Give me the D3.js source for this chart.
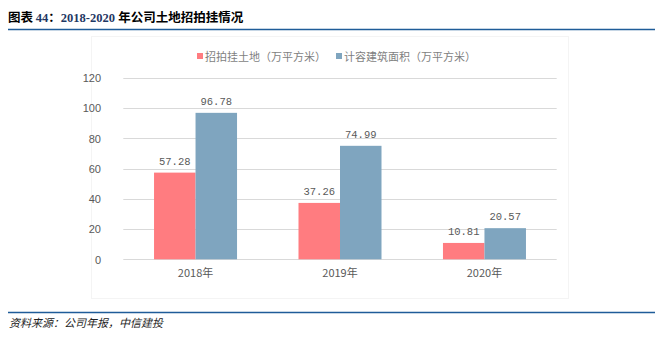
<!DOCTYPE html>
<html><head><meta charset="utf-8">
<script src="https://cdn.jsdelivr.net/npm/d3@7/dist/d3.min.js"></script>
<style>body{margin:0;background:#fff;}svg{display:block;}</style>
</head><body><svg id="c" width="663" height="343"></svg>
<script>
const categories = ["2018年", "2019年", "2020年"];
const seriesNames = ["招拍挂土地（万平方米）", "计容建筑面积（万平方米）"];
const landArea = [57.28, 37.26, 10.81];
const buildArea = [96.78, 74.99, 20.57];
const yTicks = [0, 20, 40, 60, 80, 100, 120];
const colors = ["#ff7c80", "#7fa5bf"];

const svg = d3.select("#c");
const cjk = "'Noto Sans CJK SC', sans-serif";

// Title
const title = svg.append("text").attr("x", 8).attr("y", 22)
  .attr("font-size", 12.5).attr("font-weight", "bold").attr("fill", "#000").attr("font-family", cjk);
title.append("tspan").text("图表 ");
title.append("tspan").attr("font-family", "'Liberation Serif', serif").attr("fill", "#1f3864").text("44");
title.append("tspan").text("：");
title.append("tspan").attr("font-family", "'Liberation Serif', serif").attr("fill", "#1f3864").text("2018-2020 ");
title.append("tspan").text("年公司土地招拍挂情况");
svg.append("line").attr("x1", 8).attr("x2", 655).attr("y1", 29.5).attr("y2", 29.5)
  .attr("stroke", "#1f5c99").attr("stroke-width", 1.5);

// Footer
svg.append("line").attr("x1", 8).attr("x2", 655).attr("y1", 312.5).attr("y2", 312.5)
  .attr("stroke", "#1f5c99").attr("stroke-width", 1.5);
svg.append("text").attr("x", 9).attr("y", 327).attr("font-size", 11).attr("font-style", "italic")
  .attr("fill", "#222").attr("font-family", cjk).text("资料来源：公司年报，中信建投");

// Chart border (faint)
svg.append("rect").attr("x", 91.5).attr("y", 36.5).attr("width", 477).attr("height", 262)
  .attr("fill", "none").attr("stroke", "#f4f4f4");

const plotL = 123.3, plotR = 556.7, plotT = 77.7, plotB = 259.3;
const y = d3.scaleLinear().domain([0, 120]).range([plotB, plotT]);
const x0 = d3.scaleBand().domain(categories).range([plotL, plotR]).padding(0);
const groupW = 83;
const x1 = d3.scaleBand().domain([0, 1]).range([0, groupW]).padding(0);

// Gridlines
svg.append("g").selectAll("line").data(yTicks).join("line")
  .attr("x1", plotL).attr("x2", plotR)
  .attr("y1", d => Math.round(y(d)) + 0.5).attr("y2", d => Math.round(y(d)) + 0.5)
  .attr("stroke", "#d9d9d9").attr("stroke-width", 1);

// Y axis labels
const yAxis = d3.axisLeft(y).tickValues(yTicks).tickSize(0).tickPadding(0);
const ya = svg.append("g").attr("transform", `translate(${101},0)`).call(yAxis);
ya.select(".domain").remove();
ya.selectAll("text").attr("font-size", 11).attr("fill", "#595959")
  .attr("font-family", "'Liberation Sans', Arial, sans-serif").attr("dy", "0.35em");

// Bars
const series = [landArea, buildArea];
categories.forEach((c, i) => {
  const gx = x0(c) + x0.bandwidth() / 2 - groupW / 2;
  series.forEach((s, k) => {
    const v = s[i];
    svg.append("rect").attr("x", gx + x1(k)).attr("y", y(v))
      .attr("width", x1.bandwidth()).attr("height", y(0) - y(v)).attr("fill", colors[k]);
    svg.append("text").attr("x", gx + x1(k) + x1.bandwidth() / 2).attr("y", y(v) - 8)
      .attr("text-anchor", "middle").attr("font-size", 10.5).attr("fill", "#595959")
      .attr("font-family", "'Liberation Mono', 'DejaVu Sans Mono', monospace")
      .text(v.toFixed(2));
  });
});

// X axis labels
const xAxis = d3.axisBottom(x0).tickSize(0).tickPadding(0);
const xa = svg.append("g").attr("transform", `translate(0,${plotB + 10})`).call(xAxis);
xa.select(".domain").remove();
xa.selectAll("text").attr("font-size", 11).attr("fill", "#595959").attr("font-family", cjk).attr("dy", "0.71em");

// Legend
const legX = [197, 336];
seriesNames.forEach((n, k) => {
  svg.append("rect").attr("x", legX[k]).attr("y", 53).attr("width", 6).attr("height", 6).attr("fill", colors[k]);
  svg.append("text").attr("x", legX[k] + 8).attr("y", 60.5).attr("font-size", 11).attr("fill", "#7f7f7f")
    .attr("font-family", cjk).text(n);
});
</script></body></html>
